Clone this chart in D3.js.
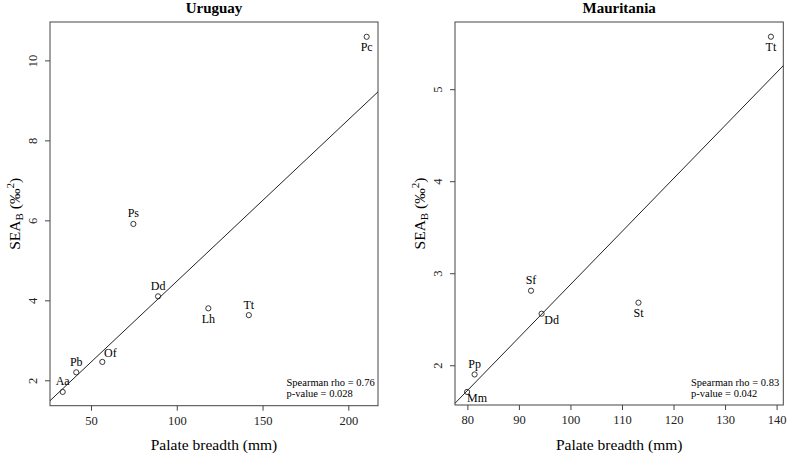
<!DOCTYPE html>
<html>
<head>
<meta charset="utf-8">
<script src="https://cdn.jsdelivr.net/npm/d3@7"></script>
<style>
  body { margin: 0; background: #fff; }
  svg text { font-family: "Liberation Serif", "Times New Roman", serif !important; }
</style>
</head>
<body>
<div id="chart"></div>
<script>
///////////// data //////////////
var uru_species = ['Aa', 'Pb', 'Of', 'Dd', 'Ps', 'Lh', 'Tt', 'Pc'];
var uru_breadth = [33.5, 41.4, 56.6, 89.1, 74.7, 118.4, 142.0, 210.7];
var uru_sea = [1.71, 2.20, 2.46, 4.10, 5.91, 3.80, 3.63, 10.59];
var uru_label_pos = ['a', 'a', 'ar', 'a', 'a', 'b', 'a', 'b'];
var uru_fit = [0.435, 0.0404];   // intercept, slope
var uru_stats = ['Spearman rho = 0.76', 'p-value = 0.028'];
var uru_xticks = [50, 100, 150, 200];
var uru_yticks = [2, 4, 6, 8, 10];

var mau_species = ['Mm', 'Pp', 'Sf', 'Dd', 'St', 'Tt'];
var mau_breadth = [79.95, 81.4, 92.35, 94.4, 113.2, 138.9];
var mau_sea = [1.71, 1.90, 2.81, 2.56, 2.68, 5.57];
var mau_label_pos = ['br', 'a', 'a', 'br', 'b', 'b'];
var mau_fit = [-2.883, 0.0576];
var mau_stats = ['Spearman rho = 0.83', 'p-value = 0.042'];
var mau_xticks = [80, 90, 100, 110, 120, 130, 140];
var mau_yticks = [2, 3, 4, 5];

///////////// layout //////////////
const width = 787, height = 455;
const serif = '"Liberation Serif", "Times New Roman", serif';
const point_r = 2.6;
const label_offsets = {
  a: [0, -10.5], b: [0, 10.5], ar: [8, -8.5], br: [10, 6.5]
};

var svg = d3.select('#chart').append('svg')
  .attr('width', width)
  .attr('height', height)
  .attr('font-family', serif);

function draw_panel(opt) {
  var x = d3.scaleLinear().domain(opt.xdomain).range([opt.left, opt.right]);
  var y = d3.scaleLinear().domain(opt.ydomain).range([opt.bottom, opt.top]);
  var g = svg.append('g');

  // title
  g.append('text')
    .attr('x', (opt.left + opt.right) / 2)
    .attr('y', 13)
    .attr('text-anchor', 'middle')
    .style('font-weight', 'bold')
    .style('font-size', '15px')
    .text(opt.title);

  // axes
  var xAxis = d3.axisBottom(x).tickValues(opt.xticks).tickSize(5).tickPadding(5)
    .tickFormat(d3.format('d'));
  var gx = g.append('g')
    .attr('transform', `translate(0,${opt.bottom})`)
    .call(xAxis)
    .attr('font-family', serif);
  gx.select('.domain').remove();
  gx.selectAll('text').style('font-size', '12.5px').attr('fill', '#222');
  gx.selectAll('line').attr('stroke', '#444');

  var yAxis = d3.axisLeft(y).tickValues(opt.yticks).tickSize(5)
    .tickFormat(d3.format('d'));
  var gy = g.append('g')
    .attr('transform', `translate(${opt.left},0)`)
    .call(yAxis)
    .attr('font-family', serif);
  gy.select('.domain').remove();
  gy.selectAll('line').attr('stroke', '#444');
  gy.selectAll('text')
    .style('font-size', '12.5px')
    .attr('fill', '#222')
    .attr('x', null).attr('dy', null)
    .attr('text-anchor', 'middle')
    .attr('transform', 'translate(-13,0) rotate(-90)');

  // box
  g.append('rect')
    .attr('x', opt.left).attr('y', opt.top)
    .attr('width', opt.right - opt.left)
    .attr('height', opt.bottom - opt.top)
    .attr('fill', 'none')
    .attr('stroke', '#444')
    .attr('stroke-width', 1);

  // axis titles
  g.append('text')
    .attr('x', (opt.left + opt.right) / 2)
    .attr('y', 450)
    .attr('text-anchor', 'middle')
    .style('font-size', '15.5px')
    .text('Palate breadth (mm)');

  var ylab = g.append('text')
    .attr('transform', `translate(${opt.ylab_x},${(opt.top + opt.bottom) / 2}) rotate(-90)`)
    .attr('text-anchor', 'middle')
    .style('font-size', '15.5px');
  ylab.append('tspan').text('SEA');
  ylab.append('tspan').attr('dy', 3).style('font-size', '11px').text('B');
  ylab.append('tspan').attr('dy', -3).text(' (‰');
  ylab.append('tspan').attr('dy', -6).style('font-size', '11px').text('2');
  ylab.append('tspan').attr('dy', 6).text(')');

  // fitted line, clipped to plot box
  var x0 = opt.xdomain[0], x1 = opt.xdomain[1];
  g.append('line')
    .attr('x1', x(x0)).attr('y1', y(opt.fit[0] + opt.fit[1] * x0))
    .attr('x2', x(x1)).attr('y2', y(opt.fit[0] + opt.fit[1] * x1))
    .attr('stroke', '#222')
    .attr('stroke-width', 1);

  // points
  var pts = opt.species.map(function(s, i) {
    return { name: s, bx: opt.breadth[i], sea: opt.sea[i], pos: opt.label_pos[i] };
  });
  g.selectAll('circle.pt').data(pts).enter().append('circle')
    .attr('class', 'pt')
    .attr('cx', d => x(d.bx))
    .attr('cy', d => y(d.sea))
    .attr('r', point_r)
    .attr('fill', 'none')
    .attr('stroke', '#222')
    .attr('stroke-width', 0.9);

  g.selectAll('text.lab').data(pts).enter().append('text')
    .attr('class', 'lab')
    .attr('x', d => x(d.bx) + label_offsets[d.pos][0])
    .attr('y', d => y(d.sea) + label_offsets[d.pos][1])
    .attr('text-anchor', 'middle')
    .attr('dominant-baseline', 'central')
    .style('font-size', '12px')
    .text(d => d.name);

  // stats annotation
  g.selectAll('text.stat').data(opt.stats).enter().append('text')
    .attr('class', 'stat')
    .attr('x', opt.stat_x)
    .attr('y', (d, i) => 385.5 + i * 11.8)
    .style('font-size', '10.5px')
    .text(d => d);
}

draw_panel({
  title: 'Uruguay',
  left: 50, right: 378, top: 22, bottom: 405.7,
  xdomain: [26.1, 217.3], ydomain: [1.365, 10.96],
  xticks: uru_xticks, yticks: uru_yticks,
  species: uru_species, breadth: uru_breadth, sea: uru_sea, label_pos: uru_label_pos,
  fit: uru_fit, stats: uru_stats, stat_x: 286.5, ylab_x: 20
});

draw_panel({
  title: 'Mauritania',
  left: 455, right: 783.3, top: 22, bottom: 405,
  xdomain: [77.6, 141.3], ydomain: [1.568, 5.73],
  xticks: mau_xticks, yticks: mau_yticks,
  species: mau_species, breadth: mau_breadth, sea: mau_sea, label_pos: mau_label_pos,
  fit: mau_fit, stats: mau_stats, stat_x: 691, ylab_x: 425
});
</script>
</body>
</html>
